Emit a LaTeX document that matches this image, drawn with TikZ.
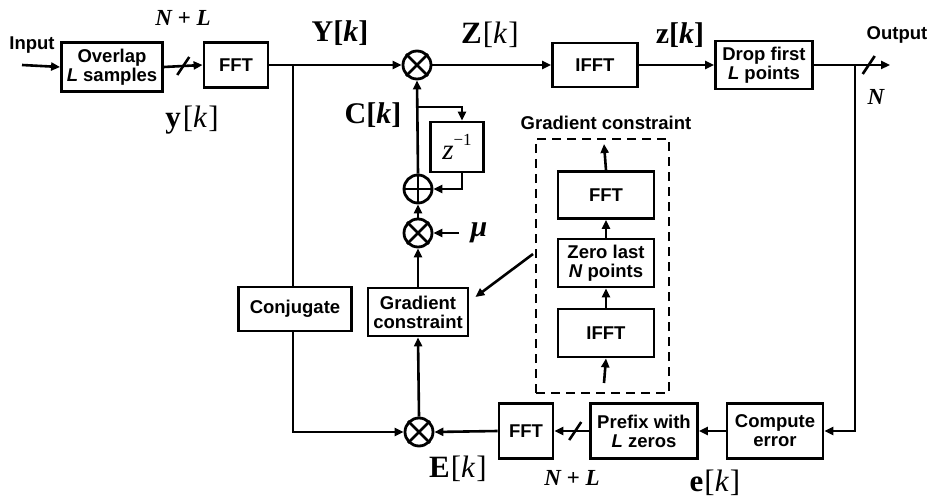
\documentclass[tikz,border=0pt]{standalone}
\usepackage{fontspec}
\setmainfont{Liberation Sans}
\newfontfamily\tms{Liberation Serif}
\usepackage{tikz}
\usetikzlibrary{arrows.meta, calc, positioning}
\tikzstyle{block} = [rectangle, draw=black, line width=2.8pt, align=center, inner sep=0pt, font=\bfseries\fontsize{18.5}{19}\selectfont]
\tikzstyle{mult} = [circle, draw=black, line width=2.8pt, minimum size=28pt, inner sep=0pt]
\tikzstyle{arrow} = [line width=2.6pt, -{Triangle[length=9pt,width=8pt]}]
\tikzstyle{line} = [line width=2.6pt]
\tikzstyle{lbl} = [font=\bfseries\fontsize{18.5}{19}\selectfont]
\tikzstyle{sig} = [font=\tms\fontsize{31}{32}\selectfont]
\tikzstyle{bsig} = [font=\tms\bfseries\fontsize{30}{31}\selectfont]
\tikzstyle{dim} = [font=\tms\bfseries\itshape\fontsize{23}{24}\selectfont]

\begin{document}
\begin{tikzpicture}[x=1pt, y=-1pt]
\useasboundingbox (0,0) rectangle (931,497);
\node (input) [lbl] at (32,45) {Input};
\coordinate (in) at (22,65);
\node (overlap) [block, minimum width=101pt, minimum height=49pt] at (112,67) {Overlap\\\textit{L} samples};
\node (fft1) [block, minimum width=64pt, minimum height=45pt] at (236,65) {FFT};
\node (m1) [mult] at (417,65) {};
\node (ifft1) [block, minimum width=85pt, minimum height=44pt] at (595,65) {IFFT};
\node (drop) [block, minimum width=97pt, minimum height=48pt] at (764,65) {Drop first\\\textit{L} points};
\coordinate (out) at (890,65);
\coordinate (tap) at (855,65);
\node (output) [lbl] at (897,35) {Output};
\coordinate (ybr) at (293,65);
\node (conj) [block, minimum width=113pt, minimum height=44pt] at (295,309) {Conjugate};
\node (m3) [mult] at (419,432) {};
\node (gc) [block, minimum width=100pt, minimum height=48pt] at (418,312) {Gradient\\constraint};
\node (m2) [mult] at (418,233) {};
\node (add) [mult] at (418,189) {};
\coordinate (cbr) at (418,107);
\node (delay) [block, minimum width=53pt, minimum height=50pt, font=\tms\fontsize{29}{29}\selectfont] at (457,147) {\textit{z}\raisebox{1.1ex}{\fontsize{17}{17}\selectfont −1}};
\coordinate (mutail) at (459,233);
\node (mu) [dim, font=\tms\bfseries\itshape\fontsize{30}{30}\selectfont] at (479,233) {μ};
\node (fft2) [block, minimum width=54pt, minimum height=55pt] at (526,431) {FFT};
\node (prefix) [block, minimum width=107pt, minimum height=55pt] at (644,431) {Prefix with\\\textit{L} zeros};
\node (comp) [block, minimum width=96pt, minimum height=55pt] at (775,431) {Compute\\error};

\node (gcbox) [draw, line width=2.6pt, dash pattern=on 9pt off 6pt, minimum width=133pt, minimum height=254pt] at (602.5,266) {};
\node (gctitle) [lbl] at (606,123) {Gradient constraint};
\node (fft3) [block, minimum width=96pt, minimum height=47pt] at (606,195) {FFT};
\node (zero) [block, minimum width=96pt, minimum height=48pt] at (606,263) {Zero last\\\textit{N} points};
\node (ifft3) [block, minimum width=96pt, minimum height=48pt] at (606,333) {IFFT};
\coordinate (gcin) at (604,383);
\coordinate (gcout) at (604,144);
\coordinate (diag) at (533,254);

\node (ylbl) [sig] at (192,120) {\textbf{y}\hspace{2pt}[\textit{k}\hspace{1pt}]};
\node (Ylbl) [bsig] at (340,33) {Y[\textit{k}]};
\node (Zlbl) [sig] at (490,35) {\textbf{Z}\hspace{1pt}[\textit{k}\hspace{1pt}]};
\node (zlbl) [bsig] at (680,35) {z[\textit{k}]};
\node (Clbl) [bsig] at (373,115) {C[\textit{k}]};
\node (Elbl) [sig] at (458,469) {\textbf{E}\hspace{1pt}[\textit{k}\hspace{1pt}]};
\node (elbl) [sig] at (715,483) {\textbf{e}\hspace{1pt}[\textit{k}\hspace{1pt}]};
\node (nl1) [dim] at (183,18) {N + L};
\node (nl2) [dim] at (572,478) {N + L};
\node (nlbl) [dim] at (876,97) {N};

\draw [arrow] (in) -- (overlap.west);
\draw [arrow] (overlap.east) -- (fft1.west);
\draw [arrow] (fft1.east) -- (m1.west);
\draw [arrow] (m1.east) -- (ifft1.west);
\draw [arrow] (ifft1.east) -- (drop.west);
\draw [arrow] (drop.east) -- (out);
\draw [arrow] (tap) |- (comp.east);
\draw [arrow] (comp.west) -- (prefix.east);
\draw [arrow] (prefix.west) -- (fft2.east);
\draw [arrow] (fft2.west) -- (m3.east);
\draw [line] (ybr) -- (ybr |- conj.north);
\draw [arrow] (ybr |- conj.south) |- (m3.west);
\draw [arrow] (m3.north) -- (gc.south);
\draw [arrow] (gc.north) -- (m2.south);
\draw [arrow] (m2.north) -- (add.south);
\draw [arrow] (add.north) -- (m1.south);
\draw [arrow] (cbr) -| ($(delay.north)+(5,0)$);
\draw [arrow] ($(delay.south)+(5,0)$) |- (add.east);
\draw [arrow] (mutail) -- (m2.east);
\draw [arrow] (gcin) -- (ifft3.south);
\draw [arrow] (ifft3.north) -- (zero.south);
\draw [arrow] (zero.north) -- (fft3.south);
\draw [arrow] (fft3.north) -- (gcout);
\draw [arrow] (diag) -- ($(gc.east)+(6,-15)$);

\foreach \m in {m1,m2,m3}
  \draw [line] (\m.north west) -- (\m.south east) (\m.north east) -- (\m.south west);
\draw [line] (add.north) -- (add.south) (add.west) -- (add.east);

\draw [line] ($(overlap.east)!0.5!(fft1.west)$) +(-6,9) -- +(6,-9);
\draw [line] ($(drop.east)!0.72!(out)$) +(-6,9) -- +(6,-9);
\draw [line] ($(prefix.west)!0.4!(fft2.east)$) +(-6,9) -- +(6,-9);
\end{tikzpicture}
\end{document}
